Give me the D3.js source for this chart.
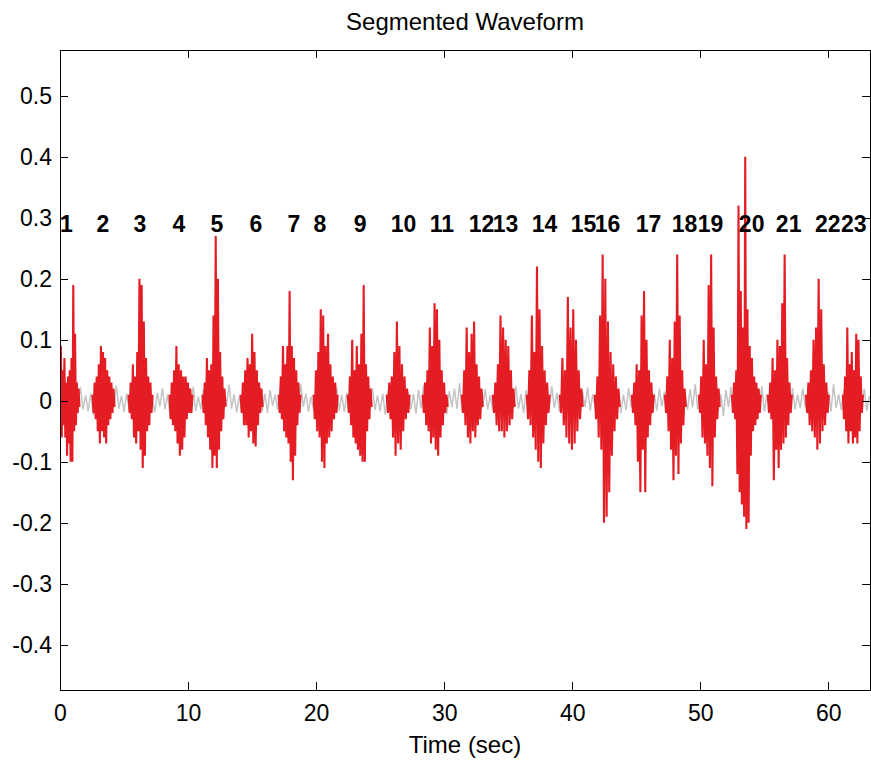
<!DOCTYPE html>
<html>
<head>
<meta charset="utf-8">
<script src="https://cdnjs.cloudflare.com/ajax/libs/d3/7.8.5/d3.min.js"></script>
<style>
body { margin: 0; background: #fff; }
svg { display: block; font-family: Arial, "Liberation Sans", sans-serif; }
</style>
</head>
<body>
<svg width="871" height="760"></svg>
<script>
// axis setup
var xTicks = [0, 10, 20, 30, 40, 50, 60];
var yTicks = [-0.4, -0.3, -0.2, -0.1, 0, 0.1, 0.2, 0.3, 0.4, 0.5];
var xRange = [0, 63.25];
var yRange = [-0.474, 0.575];

// background (gray) waveform, one sample every noiseStep seconds
var noiseStep = 0.2;
var noise = [
    .004,-.012,.018,-.009,.015,-.02,.011,-.006,.022,-.014,
    .009,-.017,.013,-.024,.016,-.008,.019,-.011,.007,-.021,
    .014,-.01,.025,-.013,.008,-.018,.012,-.015,.02,-.007,
    .017,-.022,.01,-.012,.028,-.016,.006,-.019,.013,-.009,
    .021,-.014,.011,-.026,.015,-.008,.018,-.012,.009,-.02,
    .016,-.011,.023,-.017,.007,-.014,.019,-.03,.012,-.01,
    .02,-.015,.009,-.018,.014,-.007,.026,-.013,.011,-.019,
    .008,-.016,.017,-.011,.021,-.024,.013,-.009,.015,-.017,
    .012,-.02,.018,-.008,.01,-.015,.024,-.012,.016,-.022,
    .009,-.013,.02,-.016,.027,-.01,.012,-.018,.007,-.014,
    .015,-.009,.019,-.021,.011,-.014,.017,-.007,.022,-.016,
    .01,-.018,.013,-.012,.025,-.02,.008,-.011,.018,-.026,
    .014,-.008,.021,-.015,.009,-.017,.012,-.023,.016,-.01,
    .019,-.013,.007,-.019,.023,-.009,.015,-.014,.011,-.021,
    .018,-.012,.026,-.016,.01,-.02,.013,-.008,.017,-.015,
    .008,-.022,.016,-.01,.02,-.013,.029,-.018,.012,-.009,
    .013,-.017,.011,-.025,.015,-.011,.019,-.014,.009,-.016,
    .022,-.01,.014,-.019,.008,-.016,.018,-.012,.024,-.013,
    .011,-.02,.017,-.009,.021,-.015,.01,-.027,.014,-.011,
    .016,-.014,.024,-.012,.013,-.018,.007,-.015,.02,-.019,
    .012,-.009,.018,-.021,.015,-.01,.022,-.016,.011,-.013,
    .025,-.017,.009,-.014,.019,-.023,.013,-.008,.016,-.02,
    .01,-.015,.021,-.011,.014,-.019,.026,-.012,.008,-.017,
    .017,-.024,.012,-.016,.02,-.009,.015,-.021,.013,-.01,
    .021,-.013,.016,-.018,.009,-.015,.019,-.011,.027,-.014,
    .013,-.019,.01,-.022,.017,-.012,.014,-.016,.011,-.025,
    .018,-.01,.023,-.014,.012,-.02,.016,-.009,.02,-.015,
    .009,-.016,.015,-.012,.024,-.018,.011,-.013,.017,-.021,
    .014,-.022,.019,-.01,.013,-.017,.021,-.014,.01,-.012,
    .02,-.011,.012,-.026,.016,-.013,.009,-.019,.023,-.016,
    .015,-.018,.027,-.012,.011,-.015,.018,-.022,.014,-.009,
    .012,-.014,.017,-.01,.02,-.016,.008
];

// segments (red): start / end time in sec and the samples in between
var segStart = [0, 2.54, 5.35, 8.55, 11.13, 14.10, 17.07, 19.80, 22.46, 25.51, 28.32, 31.37,
    33.79, 36.45, 39.02, 41.76, 44.65, 47.23, 49.88, 52.46, 55.27, 58.24, 61.13];
var segEnd = [1.52, 4.26, 7.23, 10.35, 12.93, 15.82, 18.79, 21.68, 24.34, 27.30, 30.27, 33.01,
    35.51, 38.24, 40.82, 43.71, 46.37, 48.87, 51.52, 54.73, 57.15, 60.04, 62.70];
var segValues = [
    [.02,.09,-.06,.05,-.04,.07,-.06,.03,-.09,.04,-.07,.05,-.1,.07,-.1,.19,-.05,.11,-.04,.03,-.02,.02,-.01],
    [.01,-.02,.03,-.03,.04,-.05,.06,-.07,.09,-.05,.08,-.06,.07,-.07,.05,-.04,.04,-.03,.03,-.02,.02,-.01],
    [.01,-.02,.03,-.03,.06,-.06,.04,-.07,.08,-.05,.2,-.08,.19,-.11,.13,-.09,.07,-.05,.04,-.04,.03,-.02,.01],
    [.01,-.03,.03,-.04,.05,-.05,.09,-.07,.06,-.09,.05,-.08,.04,-.06,.04,-.03,.03,-.02,.02,-.02,.01],
    [.01,-.02,.03,-.04,.07,-.06,.05,-.08,.06,-.11,.14,-.09,.27,-.11,.2,-.08,.08,-.05,.04,-.03,.02,-.01],
    [.01,-.02,.03,-.04,.05,-.04,.07,-.06,.06,-.05,.11,-.07,.08,-.075,.05,-.04,.03,-.02,.02,-.01],
    [.01,-.02,.04,-.03,.09,-.05,.06,-.06,.09,-.07,.18,-.1,.09,-.13,.07,-.09,.05,-.04,.03,-.02,.01],
    [.01,-.03,.05,-.05,.08,-.06,.15,-.1,.14,-.11,.09,-.07,.11,-.06,.06,-.05,.04,-.03,.03,-.02,.01],
    [.01,-.02,.04,-.04,.1,-.06,.05,-.07,.09,-.08,.06,-.09,.11,-.1,.19,-.1,.06,-.05,.04,-.03,.02,-.01],
    [.01,-.02,.03,-.03,.04,-.06,.08,-.09,.13,-.07,.09,-.08,.06,-.05,.04,-.03,.02,-.02,.01],
    [.01,-.02,.03,-.04,.05,-.05,.12,-.07,.09,-.06,.16,-.08,.15,-.09,.1,-.06,.05,-.04,.03,-.02,.01,-.01],
    [.01,-.02,.05,-.04,.12,-.06,.08,-.07,.11,-.05,.13,-.06,.06,-.04,.04,-.03,.02,-.01],
    [.01,-.02,.03,-.04,.06,-.05,.14,-.05,.12,-.06,.1,-.05,.09,-.04,.05,-.03,.02,-.01],
    [.01,-.03,.05,-.04,.14,-.06,.08,-.08,.22,-.1,.15,-.11,.09,-.07,.05,-.04,.03,-.02,.01],
    [.01,-.02,.07,-.04,.05,-.06,.17,-.07,.12,-.08,.15,-.07,.1,-.05,.05,-.03,.02,-.01],
    [.01,-.03,.04,-.06,.14,-.08,.24,-.2,.2,-.19,.13,-.15,.08,-.09,.06,-.05,.04,-.03,.02,-.01],
    [.01,-.02,.03,-.04,.06,-.1,.05,-.15,.14,-.08,.18,-.15,.1,-.06,.05,-.04,.03,-.02,.01],
    [.01,-.02,.04,-.05,.1,-.08,.07,-.13,.13,-.09,.24,-.12,.14,-.07,.05,-.04,.02,-.01],
    [.01,-.02,.04,-.06,.1,-.07,.06,-.09,.19,-.11,.24,-.14,.12,-.06,.04,-.03,.02,-.01],
    [.01,-.02,.03,-.03,.05,-.12,.32,-.15,.18,-.17,.12,-.19,.4,-.21,.15,-.2,.09,-.09,.07,-.05,.04,-.04,.03,-.03,.02,-.02,.01],
    [.01,-.02,.03,-.03,.07,-.13,.05,-.08,.1,-.11,.09,-.08,.16,-.07,.24,-.06,.07,-.04,.03,-.02,.01],
    [.01,-.02,.03,-.04,.05,-.05,.1,-.06,.12,-.08,.2,-.07,.15,-.05,.06,-.04,.03,-.02,.01],
    [.01,-.03,.04,-.05,.12,-.07,.06,-.05,.08,-.07,.05,-.06,.11,-.07,.1,-.05,.04,-.02,.01]
];

// segment numbers written above the waveform
var labelTime = [0, 2.85, 5.74, 8.79, 11.76, 14.80, 17.77, 19.80, 22.93, 25.82, 28.87, 31.91,
    33.79, 36.83, 39.88, 41.76, 44.96, 47.77, 49.80, 53.01, 55.90, 58.95, 60.98];
var labelY = 0.29;

var svg = d3.select("svg"),
    margin = {left: 60, right: 1, top: 50, bottom: 70},
    width = +svg.attr("width") - margin.left - margin.right,
    height = +svg.attr("height") - margin.top - margin.bottom;

var x = d3.scaleLinear().domain(xRange).range([0, width]);
var y = d3.scaleLinear().domain(yRange).range([height, 0]);

var g = svg.append("g")
    .attr("transform", "translate(" + margin.left + "," + margin.top + ")");

g.append("clipPath")
    .attr("id", "plotclip")
    .append("rect")
    .attr("width", width)
    .attr("height", height);

var line = d3.line()
    .x(function(d) { return x(d.t); })
    .y(function(d) { return y(d.v); });

var plot = g.append("g").attr("clip-path", "url(#plotclip)");

// full signal in gray
plot.append("path")
    .datum(noise.map(function(v, i) { return {t: i * noiseStep, v: v}; }))
    .attr("fill", "none")
    .attr("stroke", "#c4c4c4")
    .attr("stroke-width", 1.5)
    .attr("d", line);

// segment numbers
g.append("g")
    .selectAll("text")
    .data(labelTime)
    .enter().append("text")
    .attr("x", function(d) { return x(d); })
    .attr("y", y(labelY) + 8)
    .attr("font-size", 23)
    .attr("font-weight", "bold")
    .attr("fill", "#000")
    .text(function(d, i) { return i + 1; });

// the segmented parts in red
plot.append("g")
    .selectAll("path")
    .data(segValues)
    .enter().append("path")
    .attr("fill", "none")
    .attr("stroke", "#e41c23")
    .attr("stroke-width", 2.1)
    .attr("stroke-linejoin", "bevel")
    .attr("d", function(vals, i) {
        var step = (segEnd[i] - segStart[i]) / (vals.length - 1);
        return line(vals.map(function(v, j) { return {t: segStart[i] + j * step, v: v}; }));
    });

// axes, matlab style: box with inward ticks on all four sides
var fmtY = function(d) { return d === 0 ? "0" : d.toFixed(1); };
g.append("g")
    .attr("transform", "translate(0," + height + ")")
    .call(d3.axisBottom(x).tickValues(xTicks).tickSizeInner(-8).tickSizeOuter(0).tickPadding(15));
g.append("g")
    .call(d3.axisLeft(y).tickValues(yTicks).tickSizeInner(-8).tickSizeOuter(0).tickPadding(8)
        .tickFormat(fmtY));
g.append("g")
    .call(d3.axisTop(x).tickValues(xTicks).tickSizeInner(-8).tickSizeOuter(0).tickFormat(""));
g.append("g")
    .attr("transform", "translate(" + width + ",0)")
    .call(d3.axisRight(y).tickValues(yTicks).tickSizeInner(-8).tickSizeOuter(0).tickFormat(""));

g.selectAll(".tick text")
    .attr("font-size", 23)
    .attr("font-family", "Arial, 'Liberation Sans', sans-serif")
    .attr("fill", "#000");
g.selectAll(".domain, .tick line")
    .attr("stroke", "#000")
    .attr("shape-rendering", "crispEdges");

svg.append("text")
    .attr("x", margin.left + width / 2)
    .attr("y", 30)
    .attr("text-anchor", "middle")
    .attr("font-size", 24)
    .text("Segmented Waveform");

svg.append("text")
    .attr("x", margin.left + width / 2)
    .attr("y", 753)
    .attr("text-anchor", "middle")
    .attr("font-size", 24)
    .text("Time (sec)");
</script>
</body>
</html>
